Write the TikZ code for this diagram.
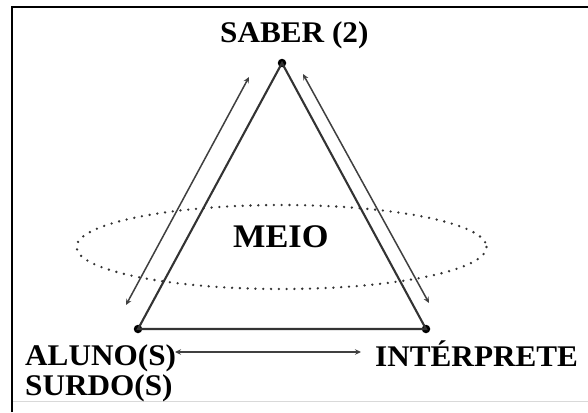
\documentclass[tikz,border=0pt]{standalone}
\usepackage{fontspec}
\setmainfont{Liberation Serif}[FakeStretch=1.04]
\usetikzlibrary{arrows.meta}
\begin{document}
\begin{tikzpicture}[x=1pt,y=-1pt,
  lbl/.style={font=\fontsize{30}{32}\selectfont\bfseries, inner sep=0pt, anchor=base west, text=black},
  side/.style={draw=black!80, line width=2.1pt},
  vdot/.style={circle, fill=black, inner sep=0pt, minimum size=8.5pt},
  rel/.style={draw=black!75, line width=1.5pt, {Stealth[length=6pt,width=5.5pt]}-{Stealth[length=6pt,width=5.5pt]}},
  medium/.style={draw=black!80, line width=2.6pt, line cap=round, dash pattern=on 0pt off 7.8pt}]
\useasboundingbox (0,0) rectangle (588,412);
\fill[white] (0,0) rectangle (588,412);
% frame
\draw[black, line width=2.6pt] (12,412) -- (12,7) -- (590,7);
\draw[black!15, line width=0.8pt] (13,401) -- (588,401);
% medium ellipse
\draw[medium] (281.5,247) ellipse [x radius=205, y radius=42];
% triangle vertices
\node[vdot] (S) at (282,63) {};
\node[vdot] (A) at (138,329) {};
\node[vdot] (I) at (426,329) {};
\draw[side] (S.center) -- (A.center) -- (I.center) -- cycle;
% relation arrows
\coordinate (l1) at (249,77);
\coordinate (l2) at (126,305);
\coordinate (r1) at (303,74);
\coordinate (r2) at (429,303);
\coordinate (b1) at (175,352);
\coordinate (b2) at (361,352);
\draw[rel] (l2) -- (l1);
\draw[rel] (r1) -- (r2);
\draw[rel] (b1) -- (b2);
% labels
\node[lbl] (saber) at (220,43) {SABER (2)};
\node[lbl, font=\fontsize{33}{35}\selectfont\bfseries] (meio) at (233,247) {MEIO};
\node[lbl] (aluno) at (25,365) {ALUNO(S)};
\node[lbl] (surdo) at (25,395) {SURDO(S)};
\node[lbl] (interp) at (375,366) {INTÉRPRETE};
\end{tikzpicture}
\end{document}
